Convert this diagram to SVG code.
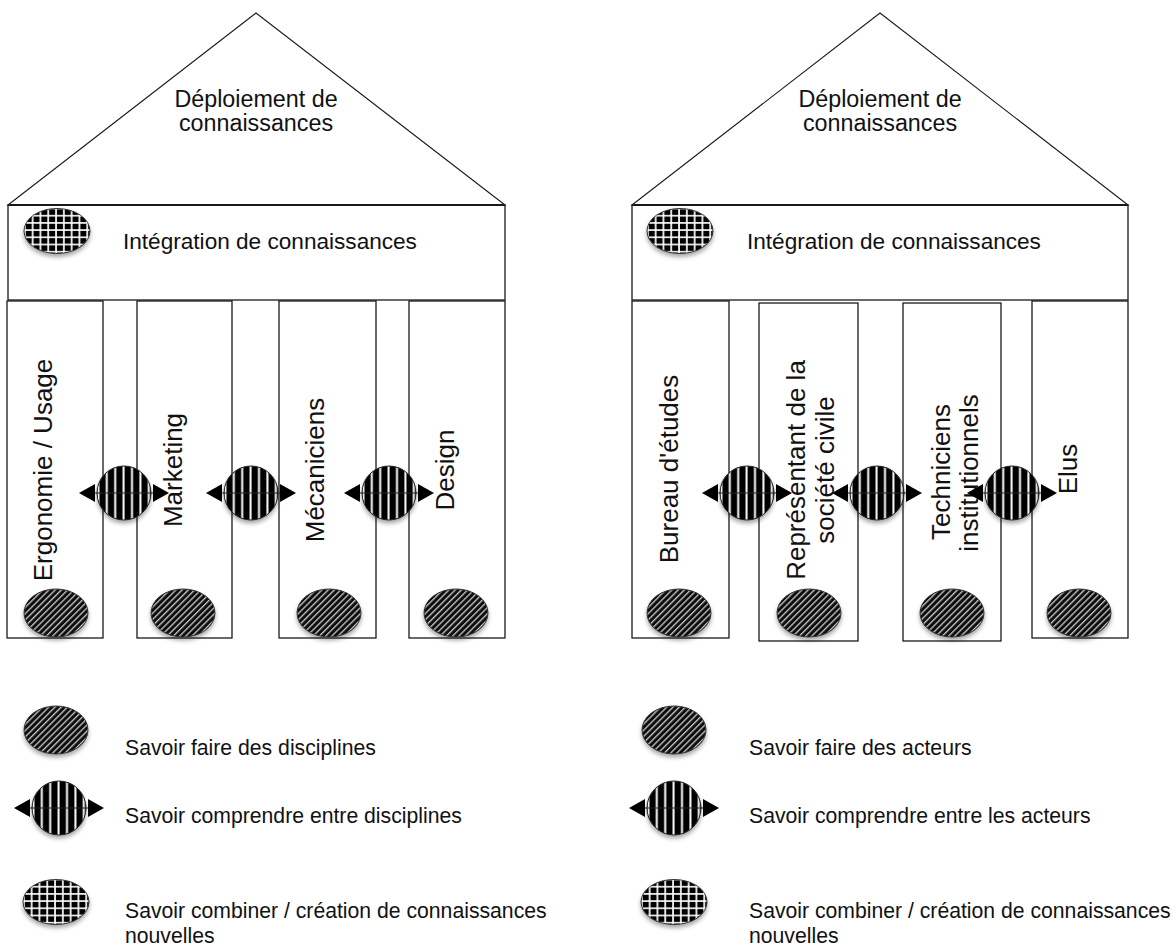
<svg xmlns="http://www.w3.org/2000/svg" xmlns:xlink="http://www.w3.org/1999/xlink" width="1176" height="947" viewBox="0 0 1176 947">
<style>
.ln{fill:#fff;stroke:#1a1a1a;stroke-width:1.3}
.roof{fill:#fff;stroke:#1a1a1a;stroke-width:1.1}
.top{stroke:#1a1a1a;stroke-width:2.2}
.lbl{font-family:"Liberation Sans",Arial,sans-serif;font-size:23.3px;fill:#111}
.lbl2{font-family:"Liberation Sans",Arial,sans-serif;font-size:22.6px;fill:#111}
.vt{font-family:"Liberation Sans",Arial,sans-serif;font-size:26px;fill:#111}
.lg{font-family:"Liberation Sans",Arial,sans-serif;font-size:21.2px;fill:#111}
</style>
<defs>
<filter id="sh" x="-40%" y="-40%" width="180%" height="190%">
<feDropShadow dx="0" dy="3" stdDeviation="2" flood-color="#000" flood-opacity="0.35"/>
</filter>
<pattern id="diag" width="4.4" height="4.4" patternUnits="userSpaceOnUse" patternTransform="rotate(45)">
<rect width="4.4" height="4.4" fill="#111"/>
<rect x="0" width="1.3" height="4.4" fill="#c8c8c8"/>
</pattern>
<pattern id="vert" width="8.4" height="10" patternUnits="userSpaceOnUse" x="1">
<rect width="8.4" height="10" fill="#000"/>
<rect x="6" width="2" height="10" fill="#fff"/>
</pattern>
<pattern id="grid" width="7.8" height="7.2" patternUnits="userSpaceOnUse">
<rect width="7.8" height="7.2" fill="#000"/>
<rect x="6" width="1.7" height="7.2" fill="#fff"/>
<rect y="5.5" width="7.8" height="1.6" fill="#fff"/>
</pattern>
<g id="bidi">
<circle r="27" fill="url(#vert)" stroke="#222" stroke-width="1" filter="url(#sh)"/>
<line x1="-32" y1="0" x2="32" y2="0" stroke="#222" stroke-width="1.2"/>
<polygon points="-45,0 -29,-9 -29,9" fill="#000"/>
<polygon points="45,0 29,-9 29,9" fill="#000"/>
</g>
<ellipse id="faire" rx="32" ry="24" fill="url(#diag)" stroke="#333" stroke-width="1" filter="url(#sh)"/>
<ellipse id="comb" rx="33" ry="22.5" fill="url(#grid)" stroke="#333" stroke-width="1" filter="url(#sh)"/>
</defs>
<rect width="1176" height="947" fill="#fff"/>

<!-- LEFT HOUSE -->
<g id="roof-left">
<polygon class="roof" points="8,205 256,13 505,205"/>
<text class="lbl" x="256" y="107" text-anchor="middle">Déploiement de</text>
<text class="lbl" x="256" y="131" text-anchor="middle">connaissances</text>
</g>
<g id="beam-left">
<rect class="ln" x="8" y="205" width="497" height="95"/>
<line class="top" x1="8" y1="205" x2="505" y2="205"/>
<use xlink:href="#comb" x="57" y="231"/>
<text class="lbl2" x="123" y="249">Intégration de connaissances</text>
</g>
<g id="col-ergonomie">
<rect class="ln" x="7" y="301" width="96" height="337"/>
<text class="vt" transform="translate(52,470) rotate(-90)" text-anchor="middle">Ergonomie / Usage</text>
<use xlink:href="#faire" x="56" y="613"/>
</g>
<g id="col-marketing">
<rect class="ln" x="137" y="301" width="95" height="337"/>
<text class="vt" transform="translate(182,470) rotate(-90)" text-anchor="middle">Marketing</text>
<use xlink:href="#faire" x="183" y="613"/>
</g>
<g id="col-mecaniciens">
<rect class="ln" x="279" y="301" width="97" height="337"/>
<text class="vt" transform="translate(324,470) rotate(-90)" text-anchor="middle">Mécaniciens</text>
<use xlink:href="#faire" x="329" y="613"/>
</g>
<g id="col-design">
<rect class="ln" x="409" y="301" width="96" height="337"/>
<text class="vt" transform="translate(454,470) rotate(-90)" text-anchor="middle">Design</text>
<use xlink:href="#faire" x="456" y="613"/>
</g>

<!-- RIGHT HOUSE -->
<g id="roof-right">
<polygon class="roof" points="632,205 880,13 1128,205"/>
<text class="lbl" x="880" y="107" text-anchor="middle">Déploiement de</text>
<text class="lbl" x="880" y="131" text-anchor="middle">connaissances</text>
</g>
<g id="beam-right">
<rect class="ln" x="632" y="205" width="496" height="95"/>
<line class="top" x1="632" y1="205" x2="1128" y2="205"/>
<use xlink:href="#comb" x="680" y="231"/>
<text class="lbl2" x="747" y="249">Intégration de connaissances</text>
</g>
<g id="col-bureau">
<rect class="ln" x="632" y="301" width="97" height="337"/>
<text class="vt" transform="translate(678,469) rotate(-90)" text-anchor="middle">Bureau d'études</text>
<use xlink:href="#faire" x="679" y="613"/>
</g>
<g id="col-representant">
<rect class="ln" x="759" y="303" width="99" height="338"/>
<text class="vt" transform="translate(805,470) rotate(-90)" text-anchor="middle">Représentant de la</text>
<text class="vt" transform="translate(834,470) rotate(-90)" text-anchor="middle">société civile</text>
<use xlink:href="#faire" x="809" y="613"/>
</g>
<g id="col-techniciens">
<rect class="ln" x="903" y="303" width="98" height="338"/>
<text class="vt" transform="translate(950,472) rotate(-90)" text-anchor="middle">Techniciens</text>
<text class="vt" transform="translate(978,473) rotate(-90)" text-anchor="middle">institutionnels</text>
<use xlink:href="#faire" x="952" y="613"/>
</g>
<g id="col-elus">
<rect class="ln" x="1032" y="301" width="96" height="337"/>
<text class="vt" transform="translate(1077,469) rotate(-90)" text-anchor="middle">Elus</text>
<use xlink:href="#faire" x="1079" y="613"/>
</g>

<!-- CONNECTORS (savoir comprendre) -->
<g id="connectors">
<use xlink:href="#bidi" x="124" y="493"/>
<use xlink:href="#bidi" x="251" y="493"/>
<use xlink:href="#bidi" x="389" y="493"/>
<use xlink:href="#bidi" x="747" y="493"/>
<use xlink:href="#bidi" x="877" y="493"/>
<use xlink:href="#bidi" x="1012" y="493"/>
</g>

<!-- LEGENDS -->
<g id="legend-left">
<use xlink:href="#faire" x="56" y="730"/>
<text class="lg" x="125" y="755">Savoir faire des disciplines</text>
<use xlink:href="#bidi" x="59" y="808"/>
<text class="lg" x="125" y="823">Savoir comprendre entre disciplines</text>
<use xlink:href="#comb" x="56" y="902"/>
<text class="lg" x="125" y="918">Savoir combiner / création de connaissances</text>
<text class="lg" x="125" y="943">nouvelles</text>
</g>
<g id="legend-right">
<use xlink:href="#faire" x="674" y="730"/>
<text class="lg" x="749" y="755">Savoir faire des acteurs</text>
<use xlink:href="#bidi" x="674" y="808"/>
<text class="lg" x="749" y="823">Savoir comprendre entre les acteurs</text>
<use xlink:href="#comb" x="674" y="902"/>
<text class="lg" x="749" y="918">Savoir combiner / création de connaissances</text>
<text class="lg" x="749" y="943">nouvelles</text>
</g>
</svg>
